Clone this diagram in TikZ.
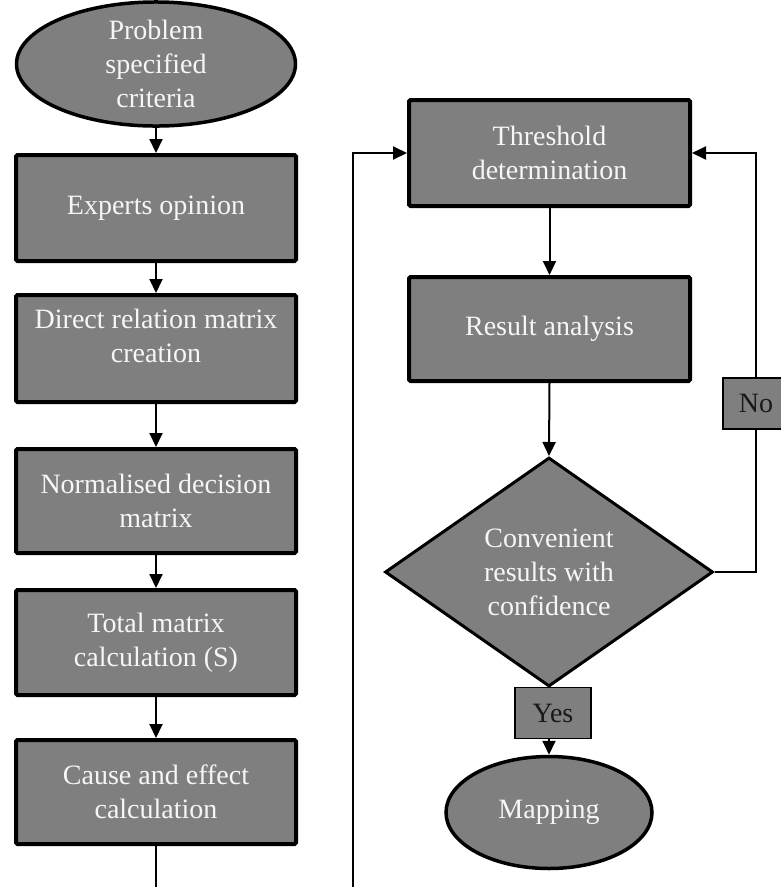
\documentclass[tikz,border=0pt]{standalone}
\usepackage{fontspec}
\setmainfont{Liberation Serif}
\usetikzlibrary{shapes.geometric,arrows.meta}
\definecolor{boxgray}{RGB}{127,127,127}
\definecolor{txtw}{RGB}{246,246,246}
\definecolor{txtd}{RGB}{25,25,25}
\begin{document}
\begin{tikzpicture}[x=1pt,y=-1pt,
  every node/.style={font=\fontsize{28}{34}\selectfont},
  proc/.style={rectangle, draw=black, line width=4pt, fill=boxgray, text=txtw,
    align=center, minimum width=280pt, inner sep=0pt, rounded corners=1.5pt},
  term/.style={ellipse, draw=black, line width=3.5pt, fill=boxgray, text=txtw,
    align=center, inner sep=0pt},
  dec/.style={diamond, draw=black, line width=3pt, fill=boxgray, text=txtw,
    align=center, inner sep=0pt, minimum width=328pt, minimum height=229pt},
  lab/.style={rectangle, draw=black, line width=1.5pt, fill=boxgray, text=txtd,
    inner sep=0pt, minimum height=51pt},
  lbltext/.style={text=txtw, align=center, inner sep=0pt},
  conn/.style={line width=2pt, draw=black},
  arr/.style={conn, -{Triangle[length=14pt,width=13pt]}}
]
\useasboundingbox (0,0) rectangle (781,887);

% left column
\node[term, minimum width=279pt, minimum height=106pt] (start) at (156,64) {Problem\\specified\\criteria};
\node[proc, minimum height=106pt] (experts) at (156,208) {Experts opinion};
\node[proc, minimum height=107pt,
  label={[lbltext, yshift=13pt]center:{Direct relation matrix\\creation}}] (direct) at (156,348.5) {};
\node[proc, minimum height=104pt] (norm) at (156,501) {Normalised decision\\matrix};
\node[proc, minimum height=105pt] (total) at (156,642.5) {Total matrix\\calculation (S)};
\node[proc, minimum height=104pt] (cause) at (156,792) {Cause and effect\\calculation};

% right column
\node[proc, minimum width=281pt, minimum height=106pt] (thr) at (549.5,153) {Threshold\\determination};
\node[proc, minimum width=281pt, minimum height=104pt] (res) at (549.5,329) {Result analysis};
\node[dec] (conv) at (549,572) {Convenient\\results with\\confidence};
\node[term, minimum width=206pt, minimum height=112pt] (map) at (549,812.5) {Mapping};

\coordinate (lbot) at (156,900);
\coordinate (rbot) at (353,900);
\coordinate (nocorner) at (756,572);

% connectors
\draw[arr] (start.south) -- (experts.north);
\draw[arr] (experts.south) -- (direct.north);
\draw[arr] (direct.south) -- (norm.north);
\draw[arr] (norm.south) -- (total.north);
\draw[arr] (total.south) -- (cause.north);
\draw[conn] (cause.south) -- (lbot);
\draw[arr] (rbot) |- (thr.west);
\draw[arr] (thr.south) -- (res.north);
\draw[arr] (res.south) -- (conv.north);
\draw[arr] (conv.east) -- (nocorner) |- (thr.east);

\node[lab, minimum width=66pt] (no) at (756,403.5) {No};
\node[lab, minimum width=76pt] (yes) at (553,713) {Yes};
\draw[arr] (map.north |- yes.south) -- (map.north);
\end{tikzpicture}
\end{document}
